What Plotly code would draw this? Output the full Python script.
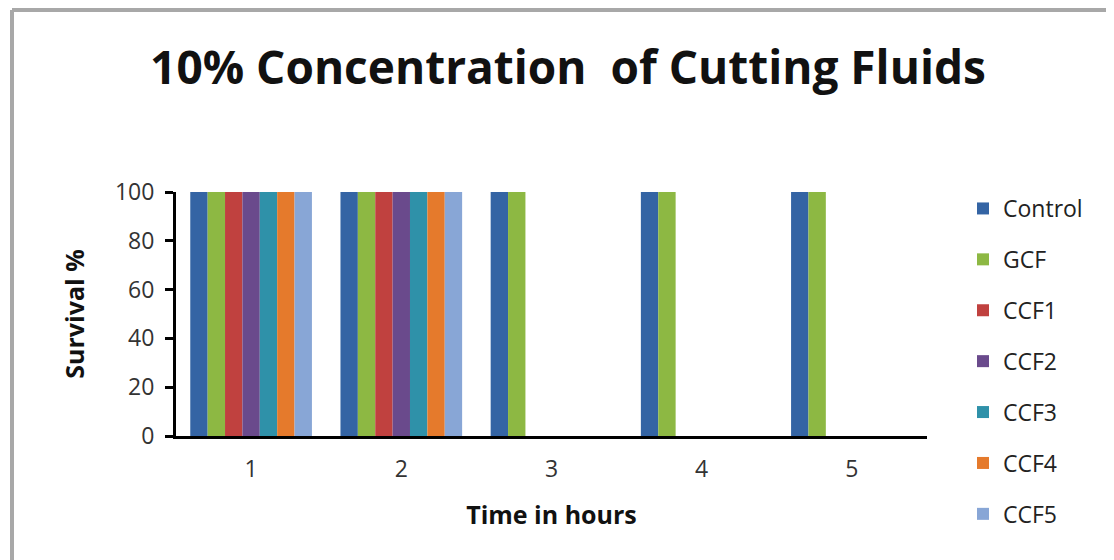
import plotly.graph_objects as go

hours = ["1", "2", "3", "4", "5"]
series_names = ["Control", "GCF", "CCF1", "CCF2", "CCF3", "CCF4", "CCF5"]
control = [100, 100, 100, 100, 100]
gcf = [100, 100, 100, 100, 100]
ccf1 = [100, 100, 0, 0, 0]
ccf2 = [100, 100, 0, 0, 0]
ccf3 = [100, 100, 0, 0, 0]
ccf4 = [100, 100, 0, 0, 0]
ccf5 = [100, 100, 0, 0, 0]
values = [control, gcf, ccf1, ccf2, ccf3, ccf4, ccf5]
colors = ["#3464a4", "#8db843", "#c0413f", "#6a4a8c", "#2f91a9", "#e57a2c", "#88a6d6"]

FONT = "Open Sans"

fig = go.Figure()
for i, (name, vals, col) in enumerate(zip(series_names, values, colors)):
    fig.add_trace(go.Bar(x=hours, y=vals, name=name, marker_color=col,
                         marker_line_width=0, legendgroup=name))

# the page body adds an 8px margin, so work in screen coords minus 8
OFF = 8
W, H = 1114 - OFF, 560 - OFF
L, R, T, B = 176 - OFF, 927 - OFF, 192 - OFF, 436 - OFF

fig.update_layout(
    width=W, height=H,
    paper_bgcolor="white", plot_bgcolor="white",
    margin=dict(l=L, r=W - R, t=T, b=H - B),
    barmode="group", bargap=0.19, bargroupgap=0,
    font=dict(family=FONT, color="#222"),
    title=dict(text="<b>10% Concentration  of Cutting Fluids</b>",
               x=(568 - OFF) / W, xanchor="center", y=1 - (68 - OFF) / H, yanchor="middle",
               font=dict(size=46, color="#111", family=FONT)),
    legend=dict(x=(963 - OFF - L) / (R - L), xanchor="left",
                y=(B - (187 - OFF)) / (B - T), yanchor="top",
                font=dict(size=23, color="#222", family=FONT), tracegroupgap=18,
                itemwidth=30, bgcolor="rgba(0,0,0,0)", maxheight=700),
    showlegend=True,
)
fig.update_xaxes(showline=True, linecolor="black", linewidth=3, ticks="",
                 tickfont=dict(size=23, color="#333"), ticklabelstandoff=10,
                 title=dict(text="<b>Time in hours</b>", font=dict(size=25, color="#111"), standoff=24),
                 showgrid=False)
fig.update_yaxes(range=[0, 100], dtick=20, showline=True, linecolor="black", linewidth=3,
                 ticks="outside", ticklen=8, tickwidth=3, tickcolor="black",
                 tickfont=dict(size=23, color="#333"), ticklabelstandoff=6,
                 title=dict(text="<b>Survival %</b>", font=dict(size=25, color="#111"), standoff=24),
                 showgrid=False, zeroline=False)

# outer frame (top and left edges visible)
fx = (12 - OFF - L) / (R - L)
fy = (B - (10 - OFF)) / (B - T)
fig.add_shape(type="line", xref="paper", yref="paper",
              x0=fx, x1=(W - L) / (R - L) + 0.02, y0=fy, y1=fy,
              line=dict(color="#a8a8a8", width=4))
fig.add_shape(type="line", xref="paper", yref="paper",
              x0=fx, x1=fx, y0=fy, y1=(B - H) / (B - T) - 0.02,
              line=dict(color="#a8a8a8", width=4))

fig.write_html("out.html")
